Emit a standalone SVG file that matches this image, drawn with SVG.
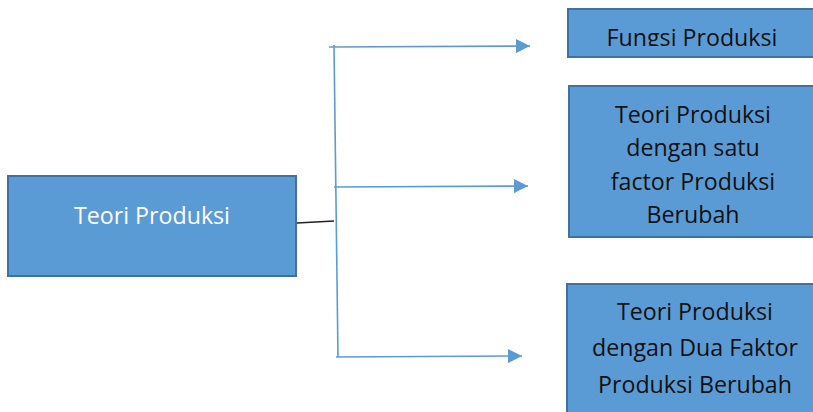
<svg xmlns="http://www.w3.org/2000/svg" width="813" height="412" viewBox="0 0 813 412">
  <style>
    .box { fill: #5B9BD5; stroke: #41719C; stroke-width: 2; }
    .lbl { font-family: "Open Sans", "Noto Sans", sans-serif; font-size: 23.2px; text-anchor: middle; fill: #111111; }
    .lbl.light { fill: #FFFFFF; }
    .link { fill: none; stroke: #5B9BD5; stroke-width: 1.6; }
    .stem { fill: none; stroke: #222222; stroke-width: 1.4; }
  </style>
  <defs>
    <marker id="arrow" viewBox="0 0 10 10" refX="10" refY="5" markerWidth="15" markerHeight="14" markerUnits="userSpaceOnUse" orient="auto">
      <path d="M0,0 L10,5 L0,10 Z" fill="#5B9BD5"/>
    </marker>
    <clipPath id="clip-fungsi">
      <rect x="568" y="9" width="245" height="37"/>
    </clipPath>
  </defs>

  <g id="connectors">
    <path class="stem" d="M297,223 L334,221"/>
    <path class="link" d="M334,45 L338,357"/>
    <path class="link" d="M329,47 L530,46" marker-end="url(#arrow)"/>
    <path class="link" d="M334,187 L528,186" marker-end="url(#arrow)"/>
    <path class="link" d="M336,357 L522,356" marker-end="url(#arrow)"/>
  </g>

  <g id="teori-produksi">
    <rect class="box" x="8" y="176" width="288" height="100"/>
    <text class="lbl light" x="152" y="224">Teori Produksi</text>
  </g>

  <g id="fungsi-produksi">
    <rect class="box" x="568" y="9" width="250" height="48"/>
    <text class="lbl" x="692" y="46" clip-path="url(#clip-fungsi)">Fungsi Produksi</text>
  </g>

  <g id="satu-faktor">
    <rect class="box" x="569" y="86" width="250" height="151"/>
    <text class="lbl" x="693" y="123">Teori Produksi</text>
    <text class="lbl" x="693" y="156">dengan satu</text>
    <text class="lbl" x="693" y="190">factor Produksi</text>
    <text class="lbl" x="693" y="223">Berubah</text>
  </g>

  <g id="dua-faktor">
    <rect class="box" x="567" y="284" width="252" height="140"/>
    <text class="lbl" x="695" y="320">Teori Produksi</text>
    <text class="lbl" x="695" y="356">dengan Dua Faktor</text>
    <text class="lbl" x="695" y="393">Produksi Berubah</text>
  </g>
</svg>
